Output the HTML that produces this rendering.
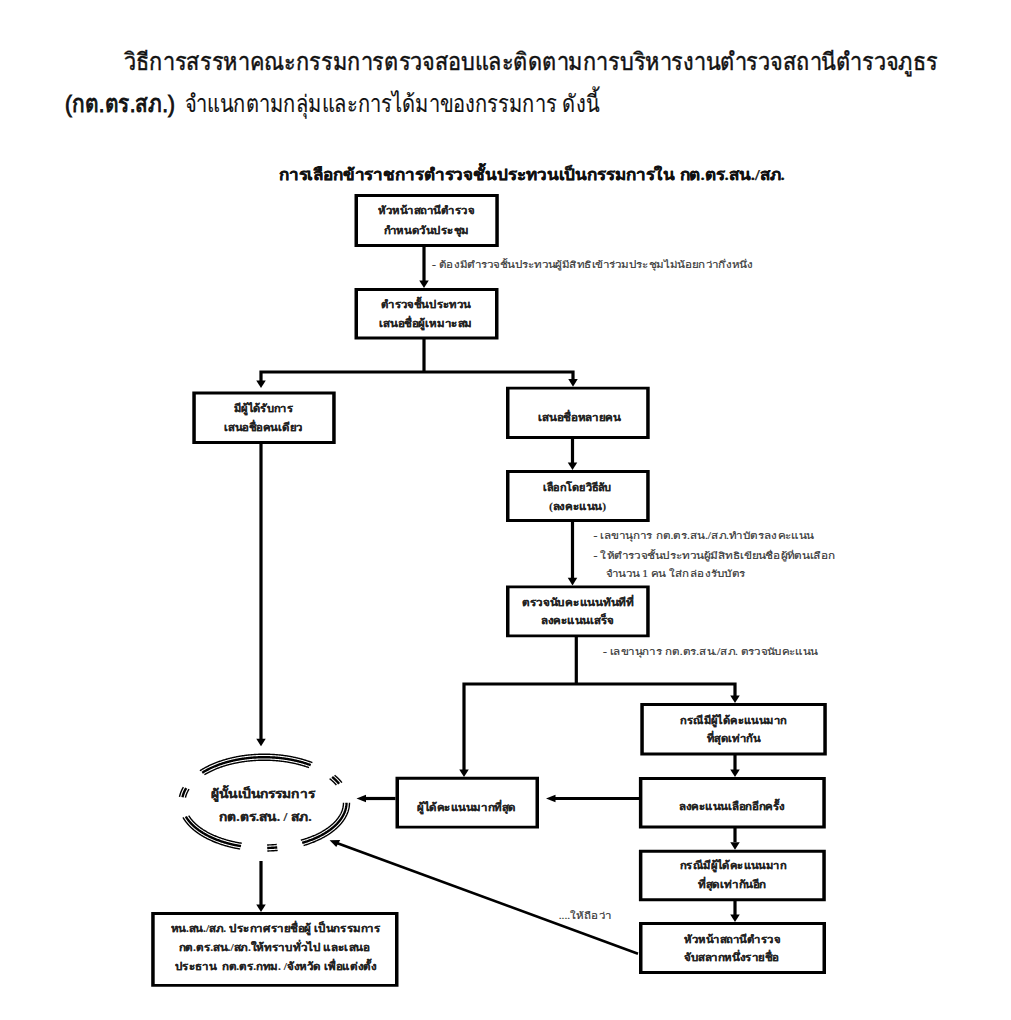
<!DOCTYPE html>
<html><head><meta charset="utf-8"><style>
html,body{margin:0;padding:0;background:#fff;width:1011px;height:1020px;overflow:hidden}
svg{display:block}
</style></head><body>
<svg width="1011" height="1020" viewBox="0 0 1011 1020">
<text x="124.0" y="69.8" font-family="&quot;Liberation Sans&quot;, sans-serif" font-size="24" font-weight="normal" fill="#111" stroke="#111" stroke-width="0.45" textLength="814.0" lengthAdjust="spacingAndGlyphs">วิธีการสรรหาคณะกรรมการตรวจสอบและติดตามการบริหารงานตำรวจสถานีตำรวจภูธร</text>
<text x="65.0" y="111.8" font-family="&quot;Liberation Sans&quot;, sans-serif" font-size="24" font-weight="normal" fill="#111" stroke="#111" stroke-width="0.9" textLength="110.0" lengthAdjust="spacingAndGlyphs">(กต.ตร.สภ.)</text>
<text x="184.8" y="111.8" font-family="&quot;Liberation Sans&quot;, sans-serif" font-size="24" font-weight="normal" fill="#111" stroke="#111" stroke-width="0.15" textLength="414.2" lengthAdjust="spacingAndGlyphs">จำแนกตามกลุ่มและการได้มาของกรรมการ ดังนี้</text>
<text x="278.8" y="180.0" font-family="&quot;Liberation Serif&quot;, serif" font-size="15.5" font-weight="bold" fill="#111" stroke="#111" stroke-width="0.25" textLength="506.0" lengthAdjust="spacingAndGlyphs">การเลือกข้าราชการตำรวจชั้นประทวนเป็นกรรมการใน กต.ตร.สน./สภ.</text>
<path d="M354.50,194.00H498.80V247.00H354.50Z M358.00,196.90V244.10H495.30V196.90Z" fill="#000" fill-rule="evenodd"/>
<text x="378.0" y="213.9" font-family="&quot;Liberation Serif&quot;, serif" font-size="10.5" font-weight="bold" fill="#222" stroke="#222" stroke-width="0.1" textLength="96.0" lengthAdjust="spacingAndGlyphs">หัวหน้าสถานีตำรวจ</text>
<text x="383.5" y="233.8" font-family="&quot;Liberation Serif&quot;, serif" font-size="10.5" font-weight="bold" fill="#222" stroke="#222" stroke-width="0.1" textLength="85.5" lengthAdjust="spacingAndGlyphs">กำหนดวันประชุม</text>
<path d="M354.50,288.00H498.50V339.50H354.50Z M358.00,290.90V336.60H495.00V290.90Z" fill="#000" fill-rule="evenodd"/>
<text x="380.6" y="308.0" font-family="&quot;Liberation Serif&quot;, serif" font-size="10.5" font-weight="bold" fill="#222" stroke="#222" stroke-width="0.1" textLength="90.4" lengthAdjust="spacingAndGlyphs">ตำรวจชั้นประทวน</text>
<text x="379.0" y="327.0" font-family="&quot;Liberation Serif&quot;, serif" font-size="10.5" font-weight="bold" fill="#222" stroke="#222" stroke-width="0.1" textLength="93.0" lengthAdjust="spacingAndGlyphs">เสนอชื่อผู้เหมาะสม</text>
<path d="M192.30,391.60H335.70V444.00H192.30Z M195.80,394.50V441.10H332.20V394.50Z" fill="#000" fill-rule="evenodd"/>
<text x="233.8" y="412.4" font-family="&quot;Liberation Serif&quot;, serif" font-size="10.5" font-weight="bold" fill="#222" stroke="#222" stroke-width="0.1" textLength="59.2" lengthAdjust="spacingAndGlyphs">มีผู้ได้รับการ</text>
<text x="224.0" y="431.0" font-family="&quot;Liberation Serif&quot;, serif" font-size="10.5" font-weight="bold" fill="#222" stroke="#222" stroke-width="0.1" textLength="78.6" lengthAdjust="spacingAndGlyphs">เสนอชื่อคนเดียว</text>
<path d="M506.00,386.70H649.70V439.00H506.00Z M509.50,389.60V436.10H646.20V389.60Z" fill="#000" fill-rule="evenodd"/>
<text x="538.0" y="420.7" font-family="&quot;Liberation Serif&quot;, serif" font-size="10.5" font-weight="bold" fill="#222" stroke="#222" stroke-width="0.1" textLength="82.5" lengthAdjust="spacingAndGlyphs">เสนอชื่อหลายคน</text>
<path d="M506.00,470.00H649.70V522.00H506.00Z M509.50,472.90V519.10H646.20V472.90Z" fill="#000" fill-rule="evenodd"/>
<text x="543.0" y="491.0" font-family="&quot;Liberation Serif&quot;, serif" font-size="10.5" font-weight="bold" fill="#222" stroke="#222" stroke-width="0.1" textLength="68.5" lengthAdjust="spacingAndGlyphs">เลือกโดยวิธีลับ</text>
<text x="549.0" y="509.6" font-family="&quot;Liberation Serif&quot;, serif" font-size="10.5" font-weight="bold" fill="#222" stroke="#222" stroke-width="0.1" textLength="57.0" lengthAdjust="spacingAndGlyphs">(ลงคะแนน)</text>
<path d="M506.00,585.40H649.70V637.30H506.00Z M509.50,588.30V634.40H646.20V588.30Z" fill="#000" fill-rule="evenodd"/>
<text x="522.0" y="605.6" font-family="&quot;Liberation Serif&quot;, serif" font-size="10.5" font-weight="bold" fill="#222" stroke="#222" stroke-width="0.1" textLength="112.0" lengthAdjust="spacingAndGlyphs">ตรวจนับคะแนนทันทีที่</text>
<text x="541.0" y="624.4" font-family="&quot;Liberation Serif&quot;, serif" font-size="10.5" font-weight="bold" fill="#222" stroke="#222" stroke-width="0.1" textLength="73.0" lengthAdjust="spacingAndGlyphs">ลงคะแนนเสร็จ</text>
<path d="M640.30,703.10H826.80V755.40H640.30Z M643.80,706.00V752.50H823.30V706.00Z" fill="#000" fill-rule="evenodd"/>
<text x="680.4" y="723.7" font-family="&quot;Liberation Serif&quot;, serif" font-size="10.5" font-weight="bold" fill="#222" stroke="#222" stroke-width="0.1" textLength="105.9" lengthAdjust="spacingAndGlyphs">กรณีมีผู้ได้คะแนนมาก</text>
<text x="706.8" y="742.0" font-family="&quot;Liberation Serif&quot;, serif" font-size="10.5" font-weight="bold" fill="#222" stroke="#222" stroke-width="0.1" textLength="53.2" lengthAdjust="spacingAndGlyphs">ที่สุดเท่ากัน</text>
<path d="M638.90,777.10H825.80V828.50H638.90Z M642.40,780.00V825.60H822.30V780.00Z" fill="#000" fill-rule="evenodd"/>
<text x="679.0" y="810.3" font-family="&quot;Liberation Serif&quot;, serif" font-size="10.5" font-weight="bold" fill="#222" stroke="#222" stroke-width="0.1" textLength="105.7" lengthAdjust="spacingAndGlyphs">ลงคะแนนเลือกอีกครั้ง</text>
<path d="M395.50,776.80H539.00V828.60H395.50Z M399.00,779.70V825.70H535.50V779.70Z" fill="#000" fill-rule="evenodd"/>
<text x="417.0" y="810.5" font-family="&quot;Liberation Serif&quot;, serif" font-size="10.5" font-weight="bold" fill="#222" stroke="#222" stroke-width="0.1" textLength="98.8" lengthAdjust="spacingAndGlyphs">ผู้ได้คะแนนมากที่สุด</text>
<path d="M638.90,849.80H825.80V901.20H638.90Z M642.40,852.70V898.30H822.30V852.70Z" fill="#000" fill-rule="evenodd"/>
<text x="680.0" y="869.2" font-family="&quot;Liberation Serif&quot;, serif" font-size="10.5" font-weight="bold" fill="#222" stroke="#222" stroke-width="0.1" textLength="106.0" lengthAdjust="spacingAndGlyphs">กรณีมีผู้ได้คะแนนมาก</text>
<text x="698.0" y="888.4" font-family="&quot;Liberation Serif&quot;, serif" font-size="10.5" font-weight="bold" fill="#222" stroke="#222" stroke-width="0.1" textLength="68.0" lengthAdjust="spacingAndGlyphs">ที่สุดเท่ากันอีก</text>
<path d="M639.00,922.00H826.00V974.00H639.00Z M642.50,924.90V971.10H822.50V924.90Z" fill="#000" fill-rule="evenodd"/>
<text x="684.4" y="942.8" font-family="&quot;Liberation Serif&quot;, serif" font-size="10.5" font-weight="bold" fill="#222" stroke="#222" stroke-width="0.1" textLength="95.6" lengthAdjust="spacingAndGlyphs">หัวหน้าสถานีตำรวจ</text>
<text x="684.0" y="961.0" font-family="&quot;Liberation Serif&quot;, serif" font-size="10.5" font-weight="bold" fill="#222" stroke="#222" stroke-width="0.1" textLength="95.0" lengthAdjust="spacingAndGlyphs">จับสลากหนึ่งรายชื่อ</text>
<path d="M151.20,912.00H398.50V986.80H151.20Z M154.70,914.90V983.90H395.00V914.90Z" fill="#000" fill-rule="evenodd"/>
<text x="170.7" y="931.5" font-family="&quot;Liberation Serif&quot;, serif" font-size="10.5" font-weight="bold" fill="#222" stroke="#222" stroke-width="0.1" textLength="209.7" lengthAdjust="spacingAndGlyphs">หน.สน./สภ. ประกาศรายชื่อผู้ เป็นกรรมการ</text>
<text x="178.7" y="951.0" font-family="&quot;Liberation Serif&quot;, serif" font-size="10.5" font-weight="bold" fill="#222" stroke="#222" stroke-width="0.1" textLength="191.0" lengthAdjust="spacingAndGlyphs">กต.ตร.สน./สภ.ให้ทราบทั่วไป และเสนอ</text>
<text x="174.7" y="969.7" font-family="&quot;Liberation Serif&quot;, serif" font-size="10.5" font-weight="bold" fill="#222" stroke="#222" stroke-width="0.1" textLength="201.7" lengthAdjust="spacingAndGlyphs">ประธาน&#160; กต.ตร.กทม. /จังหวัด เพื่อแต่งตั้ง</text>
<polyline points="424.00,247.00 424.00,281.00" fill="none" stroke="#000" stroke-width="3.2" stroke-linejoin="miter" stroke-linecap="butt"/>
<polygon points="424.00,288.00 419.25,280.40 428.75,280.40" fill="#000"/>
<polyline points="424.00,339.00 424.00,372.00" fill="none" stroke="#000" stroke-width="3.2" stroke-linejoin="miter" stroke-linecap="butt"/>
<polyline points="261.00,381.00 261.00,372.00 573.00,372.00 573.00,380.00" fill="none" stroke="#000" stroke-width="3.2" stroke-linejoin="miter" stroke-linecap="butt"/>
<polygon points="261.00,388.00 256.25,380.40 265.75,380.40" fill="#000"/>
<polygon points="573.00,386.70 568.25,379.10 577.75,379.10" fill="#000"/>
<polyline points="572.50,439.00 572.50,464.00" fill="none" stroke="#000" stroke-width="3.2" stroke-linejoin="miter" stroke-linecap="butt"/>
<polygon points="572.50,470.00 567.75,462.40 577.25,462.40" fill="#000"/>
<polyline points="572.50,522.00 572.50,579.00" fill="none" stroke="#000" stroke-width="3.2" stroke-linejoin="miter" stroke-linecap="butt"/>
<polygon points="572.50,585.40 567.75,577.80 577.25,577.80" fill="#000"/>
<polyline points="576.30,637.00 576.30,684.00" fill="none" stroke="#000" stroke-width="3.2" stroke-linejoin="miter" stroke-linecap="butt"/>
<polyline points="464.00,770.00 464.00,684.00 735.00,684.00 735.00,696.00" fill="none" stroke="#000" stroke-width="3.2" stroke-linejoin="miter" stroke-linecap="butt"/>
<polygon points="464.00,777.00 459.25,769.40 468.75,769.40" fill="#000"/>
<polygon points="735.00,703.00 730.25,695.40 739.75,695.40" fill="#000"/>
<polyline points="735.00,755.00 735.00,770.00" fill="none" stroke="#000" stroke-width="3.2" stroke-linejoin="miter" stroke-linecap="butt"/>
<polygon points="735.00,777.00 730.25,769.40 739.75,769.40" fill="#000"/>
<polyline points="735.00,828.00 735.00,842.00" fill="none" stroke="#000" stroke-width="3.2" stroke-linejoin="miter" stroke-linecap="butt"/>
<polygon points="735.00,849.80 730.25,842.20 739.75,842.20" fill="#000"/>
<polyline points="735.00,901.00 735.00,915.00" fill="none" stroke="#000" stroke-width="3.2" stroke-linejoin="miter" stroke-linecap="butt"/>
<polygon points="735.00,922.00 730.25,914.40 739.75,914.40" fill="#000"/>
<polyline points="639.00,798.50 554.00,798.50" fill="none" stroke="#000" stroke-width="3.2" stroke-linejoin="miter" stroke-linecap="butt"/>
<polygon points="546.00,798.50 555.50,794.70 555.50,802.30" fill="#000"/>
<polyline points="395.50,798.50 364.00,798.50" fill="none" stroke="#000" stroke-width="3.2" stroke-linejoin="miter" stroke-linecap="butt"/>
<polygon points="356.50,798.50 366.00,794.70 366.00,802.30" fill="#000"/>
<polyline points="261.00,444.00 261.00,740.00" fill="none" stroke="#000" stroke-width="3.2" stroke-linejoin="miter" stroke-linecap="butt"/>
<polygon points="261.00,746.30 256.25,738.70 265.75,738.70" fill="#000"/>
<polyline points="261.00,861.00 261.00,906.00" fill="none" stroke="#000" stroke-width="3.2" stroke-linejoin="miter" stroke-linecap="butt"/>
<polygon points="261.00,912.00 256.25,904.40 265.75,904.40" fill="#000"/>
<polyline points="638.00,953.80 336.17,842.72" fill="none" stroke="#000" stroke-width="2.6" stroke-linejoin="miter" stroke-linecap="butt"/>
<polygon points="329.60,840.30 340.22,840.03 336.24,846.93" fill="#000"/>
<polyline points="204.44,774.73 204.90,774.45 205.36,774.17 205.83,773.90 206.30,773.63 206.78,773.36 207.26,773.09 207.75,772.82 208.24,772.56 208.73,772.30 209.23,772.04 209.73,771.78 210.24,771.53 210.75,771.28 211.27,771.03 211.79,770.78 212.31,770.54 212.84,770.30 213.37,770.06 213.90,769.82 214.44,769.59 214.98,769.35 215.53,769.12 216.08,768.90 216.63,768.67 217.19,768.45 217.75,768.23 218.32,768.02 218.89,767.80 219.46,767.59 220.03,767.39 220.61,767.18 221.19,766.98 221.78,766.78 222.37,766.58 222.96,766.39 223.55,766.19 224.15,766.00 224.75,765.82 225.36,765.63 225.96,765.45 226.57,765.28 227.19,765.10 227.80,764.93 228.42,764.76 229.04,764.60 229.67,764.43 230.29,764.27 230.92,764.11 231.55,763.96 232.19,763.81 232.82,763.66 233.46,763.51 234.10,763.37 234.75,763.23 235.39,763.10 236.04,762.96 236.69,762.83 237.34,762.71 238.00,762.58 238.66,762.46 239.31,762.34 239.97,762.23 240.64,762.12 241.30,762.01 241.97,761.90 242.63,761.80 243.30,761.70 243.97,761.60 244.65,761.51 245.32,761.42 246.00,761.33 246.67,761.25 247.35,761.17 248.03,761.09 248.71,761.02 249.39,760.95 250.07,760.88 250.76,760.81 251.44,760.75 252.13,760.69 252.82,760.64 253.50,760.59 254.19,760.54 254.88,760.49 255.57,760.45 256.26,760.41 256.95,760.38 257.65,760.35 258.34,760.32 259.03,760.29 259.72,760.27 260.42,760.25 261.11,760.23 261.81,760.22 262.50,760.21 263.19,760.20 263.89,760.20 264.58,760.20 265.28,760.20 265.97,760.21 266.67,760.22 267.36,760.23 268.05,760.25 268.75,760.27 269.44,760.29 270.13,760.32 270.83,760.35 271.52,760.38 272.21,760.42 272.90,760.46 273.59,760.50 274.28,760.54 274.97,760.59 275.66,760.64 276.34,760.70 277.03,760.76 277.71,760.82 278.40,760.89 279.08,760.95 279.76,761.02 280.44,761.10 281.12,761.18 281.80,761.26 282.48,761.34 283.15,761.43 283.82,761.52 284.50,761.61 285.17,761.71 285.84,761.81 286.50,761.91 287.17,762.02 287.83,762.13 288.49,762.24 289.16,762.35 289.81,762.47 290.47,762.59 291.12,762.72 291.78,762.85 292.43,762.98 293.07,763.11 293.72,763.25 294.36,763.39 295.00,763.53 295.64,763.68 296.28,763.82 296.91,763.98 297.55,764.13 298.17,764.29 298.80,764.45 299.42,764.61 300.04,764.78 300.66,764.95 301.28,765.12 301.89,765.30 302.50,765.47 303.11,765.65 303.71,765.84 304.31,766.02 304.91,766.21 305.50,766.41 306.09,766.60 306.68,766.80 307.27,767.00 307.85,767.20 308.43,767.41 309.00,767.62" fill="none" stroke="#000" stroke-width="1.4"/>
<polyline points="202.18,772.76 202.66,772.46 203.14,772.16 203.62,771.87 204.11,771.58 204.61,771.29 205.11,771.00 205.61,770.72 206.12,770.43 206.63,770.15 207.15,769.88 207.67,769.60 208.20,769.33 208.73,769.06 209.26,768.79 209.80,768.53 210.35,768.27 210.89,768.01 211.44,767.75 212.00,767.50 212.56,767.25 213.12,767.00 213.69,766.76 214.26,766.51 214.84,766.27 215.41,766.04 216.00,765.80 216.58,765.57 217.17,765.34 217.77,765.12 218.36,764.89 218.96,764.67 219.57,764.46 220.17,764.24 220.78,764.03 221.40,763.82 222.02,763.62 222.64,763.42 223.26,763.22 223.89,763.02 224.52,762.83 225.15,762.64 225.79,762.45 226.42,762.26 227.07,762.08 227.71,761.91 228.36,761.73 229.01,761.56 229.66,761.39 230.32,761.23 230.98,761.06 231.64,760.90 232.30,760.75 232.97,760.60 233.63,760.45 234.30,760.30 234.98,760.16 235.65,760.02 236.33,759.88 237.01,759.75 237.69,759.62 238.37,759.49 239.06,759.37 239.75,759.25 240.43,759.13 241.13,759.02 241.82,758.91 242.51,758.80 243.21,758.70 243.91,758.60 244.61,758.51 245.31,758.41 246.01,758.32 246.71,758.24 247.42,758.15 248.12,758.07 248.83,758.00 249.54,757.93 250.25,757.86 250.96,757.79 251.67,757.73 252.39,757.67 253.10,757.61 253.81,757.56 254.53,757.51 255.25,757.47 255.96,757.43 256.68,757.39 257.40,757.36 258.12,757.32 258.84,757.30 259.55,757.27 260.27,757.25 260.99,757.23 261.72,757.22 262.44,757.21 263.16,757.20 263.88,757.20 264.60,757.20 265.32,757.20 266.04,757.21 266.76,757.22 267.48,757.24 268.20,757.25 268.92,757.27 269.64,757.30 270.36,757.33 271.08,757.36 271.80,757.39 272.51,757.43 273.23,757.47 273.95,757.52 274.66,757.57 275.38,757.62 276.09,757.68 276.80,757.74 277.51,757.80 278.22,757.86 278.93,757.93 279.64,758.01 280.35,758.08 281.06,758.16 281.76,758.25 282.46,758.33 283.17,758.42 283.87,758.52 284.57,758.61 285.26,758.71 285.96,758.82 286.65,758.92 287.35,759.03 288.04,759.15 288.73,759.26 289.41,759.38 290.10,759.51 290.78,759.63 291.46,759.76 292.14,759.90 292.82,760.03 293.49,760.17 294.17,760.32 294.84,760.46 295.50,760.61 296.17,760.77 296.83,760.92 297.49,761.08 298.15,761.24 298.81,761.41 299.46,761.58 300.11,761.75 300.76,761.92 301.40,762.10 302.04,762.28 302.68,762.47 303.32,762.66 303.95,762.85 304.58,763.04 305.21,763.24 305.83,763.44 306.45,763.64 307.07,763.84 307.68,764.05 308.29,764.26 308.90,764.48 309.50,764.70 310.10,764.92 310.70,765.14" fill="none" stroke="#000" stroke-width="2.4"/>
<polyline points="199.92,770.78 200.41,770.46 200.91,770.15 201.42,769.84 201.92,769.53 202.44,769.22 202.96,768.91 203.48,768.61 204.00,768.31 204.54,768.01 205.07,767.71 205.61,767.42 206.16,767.13 206.71,766.85 207.26,766.56 207.82,766.28 208.38,766.00 208.95,765.72 209.52,765.45 210.10,765.18 210.68,764.91 211.26,764.65 211.85,764.39 212.44,764.13 213.04,763.87 213.64,763.62 214.24,763.37 214.85,763.12 215.46,762.88 216.07,762.64 216.69,762.40 217.31,762.17 217.94,761.94 218.57,761.71 219.20,761.48 219.84,761.26 220.48,761.04 221.12,760.83 221.77,760.61 222.42,760.40 223.07,760.20 223.73,760.00 224.39,759.80 225.05,759.60 225.71,759.41 226.38,759.22 227.05,759.03 227.73,758.85 228.40,758.67 229.08,758.49 229.76,758.32 230.45,758.15 231.14,757.98 231.83,757.82 232.52,757.66 233.21,757.51 233.91,757.35 234.61,757.21 235.31,757.06 236.02,756.92 236.72,756.78 237.43,756.65 238.14,756.51 238.85,756.39 239.57,756.26 240.28,756.14 241.00,756.02 241.72,755.91 242.44,755.80 243.17,755.69 243.89,755.59 244.62,755.49 245.35,755.40 246.07,755.31 246.81,755.22 247.54,755.13 248.27,755.05 249.01,754.97 249.74,754.90 250.48,754.83 251.22,754.76 251.95,754.70 252.69,754.64 253.44,754.59 254.18,754.54 254.92,754.49 255.66,754.44 256.41,754.40 257.15,754.37 257.89,754.33 258.64,754.30 259.39,754.28 260.13,754.26 260.88,754.24 261.62,754.22 262.37,754.21 263.12,754.20 263.87,754.20 264.61,754.20 265.36,754.20 266.11,754.21 266.85,754.22 267.60,754.24 268.35,754.26 269.09,754.28 269.84,754.31 270.58,754.34 271.33,754.37 272.07,754.41 272.82,754.45 273.56,754.49 274.30,754.54 275.04,754.59 275.78,754.65 276.52,754.71 277.26,754.77 278.00,754.84 278.74,754.91 279.47,754.98 280.21,755.06 280.94,755.14 281.67,755.23 282.40,755.31 283.13,755.41 283.86,755.50 284.58,755.60 285.31,755.71 286.03,755.81 286.75,755.92 287.47,756.04 288.19,756.15 288.91,756.27 289.62,756.40 290.33,756.53 291.04,756.66 291.75,756.79 292.46,756.93 293.16,757.08 293.86,757.22 294.56,757.37 295.26,757.52 295.95,757.68 296.65,757.84 297.34,758.00 298.02,758.17 298.71,758.34 299.39,758.51 300.07,758.69 300.74,758.87 301.42,759.05 302.09,759.24 302.76,759.43 303.42,759.62 304.08,759.82 304.74,760.02 305.40,760.22 306.05,760.43 306.70,760.64 307.35,760.85 307.99,761.06 308.63,761.28 309.26,761.51 309.90,761.73 310.53,761.96 311.15,762.19 311.77,762.43 312.39,762.66" fill="none" stroke="#000" stroke-width="1.4"/>
<polyline points="329.63,778.65 330.02,778.95 330.40,779.26 330.78,779.57 331.16,779.88 331.52,780.19 331.89,780.51 332.24,780.83 332.60,781.14 332.94,781.46 333.29,781.79 333.62,782.11 333.96,782.43 334.28,782.76 334.60,783.09 334.92,783.42 335.23,783.75 335.53,784.08 335.83,784.41 336.13,784.75 336.42,785.08" fill="none" stroke="#000" stroke-width="1.4"/>
<polyline points="332.11,776.95 332.51,777.28 332.91,777.61 333.30,777.94 333.69,778.27 334.07,778.61 334.45,778.95 334.82,779.29 335.18,779.63 335.55,779.97 335.90,780.31 336.25,780.66 336.60,781.01 336.93,781.36 337.27,781.71 337.59,782.06 337.92,782.41 338.23,782.77 338.54,783.13 338.85,783.48 339.15,783.85" fill="none" stroke="#000" stroke-width="2.4"/>
<polyline points="334.58,775.26 335.00,775.61 335.41,775.96 335.82,776.31 336.22,776.67 336.62,777.02 337.01,777.38 337.39,777.74 337.77,778.11 338.15,778.47 338.51,778.84 338.88,779.21 339.23,779.58 339.59,779.95 339.93,780.33 340.27,780.70 340.60,781.08 340.93,781.46 341.25,781.84 341.57,782.22 341.88,782.61" fill="none" stroke="#000" stroke-width="1.4"/>
<polyline points="343.50,802.79 343.49,803.16 343.48,803.53 343.46,803.90 343.44,804.27 343.41,804.64 343.37,805.01 343.33,805.38 343.28,805.75 343.23,806.12 343.16,806.49 343.10,806.86 343.03,807.23 342.95,807.60 342.86,807.97 342.77,808.34 342.67,808.71 342.57,809.08 342.46,809.44 342.35,809.81 342.22,810.17 342.10,810.54 341.96,810.90 341.83,811.27 341.68,811.63 341.53,811.99 341.37,812.36 341.21,812.72 341.04,813.08 340.87,813.44 340.69,813.80 340.50,814.15 340.31,814.51 340.11,814.87 339.90,815.22 339.70,815.58 339.48,815.93 339.26,816.28 339.03,816.63 338.80,816.98 338.56,817.33 338.32,817.68 338.07,818.03 337.81,818.37 337.55,818.72 337.28,819.06 337.01,819.40 336.73,819.74 336.45,820.08 336.16,820.42 335.86,820.75 335.56,821.09 335.26,821.42 334.95,821.75 334.63,822.09 334.31,822.41 333.98,822.74 333.65,823.07 333.31,823.39 332.97,823.72 332.62,824.04 332.26,824.36 331.90,824.68 331.54,824.99 331.17,825.31 330.80,825.62 330.42,825.93 330.03,826.24 329.64,826.55 329.25,826.85 328.85,827.16 328.44,827.46 328.03,827.76 327.62,828.06 327.20,828.35 326.77,828.65 326.34,828.94 325.91,829.23 325.47,829.52 325.03,829.80 324.58,830.09 324.13,830.37 323.67,830.65 323.21,830.93 322.74,831.20 322.27,831.47 321.80,831.75 321.32,832.01 320.83,832.28 320.34,832.54 319.85,832.81 319.35,833.07 318.85,833.32 318.35,833.58 317.84,833.83 317.32,834.08 316.80,834.33 316.28,834.57 315.76,834.82 315.23,835.06 314.69,835.29 314.15,835.53 313.61,835.76 313.07,835.99 312.52,836.22 311.97,836.45 311.41,836.67 310.85,836.89 310.29,837.10 309.72,837.32 309.15,837.53 308.57,837.74 308.00,837.95 307.42,838.15 306.83,838.35 306.24,838.55 305.65,838.75 305.06,838.94 304.46,839.13 303.86,839.32 303.26,839.50 302.65,839.68 302.04,839.86 301.43,840.04 300.82,840.21" fill="none" stroke="#000" stroke-width="1.4"/>
<polyline points="346.50,802.80 346.49,803.20 346.48,803.59 346.46,803.99 346.44,804.39 346.40,804.79 346.37,805.18 346.32,805.58 346.27,805.98 346.22,806.37 346.15,806.77 346.08,807.17 346.01,807.56 345.93,807.96 345.84,808.35 345.74,808.75 345.64,809.14 345.53,809.53 345.42,809.93 345.30,810.32 345.18,810.71 345.04,811.10 344.91,811.49 344.76,811.88 344.61,812.27 344.45,812.66 344.29,813.05 344.12,813.43 343.95,813.82 343.77,814.20 343.58,814.59 343.39,814.97 343.19,815.35 342.98,815.73 342.77,816.11 342.55,816.49 342.33,816.87 342.10,817.25 341.86,817.63 341.62,818.00 341.37,818.37 341.12,818.75 340.86,819.12 340.59,819.49 340.32,819.86 340.05,820.22 339.76,820.59 339.48,820.95 339.18,821.32 338.88,821.68 338.57,822.04 338.26,822.40 337.95,822.75 337.62,823.11 337.29,823.46 336.96,823.82 336.62,824.17 336.28,824.52 335.92,824.86 335.57,825.21 335.21,825.55 334.84,825.90 334.47,826.24 334.09,826.58 333.70,826.91 333.32,827.25 332.92,827.58 332.52,827.91 332.12,828.24 331.71,828.57 331.29,828.89 330.87,829.22 330.45,829.54 330.02,829.86 329.58,830.17 329.14,830.49 328.70,830.80 328.24,831.11 327.79,831.42 327.33,831.73 326.86,832.03 326.39,832.33 325.92,832.63 325.44,832.93 324.96,833.22 324.47,833.52 323.97,833.81 323.48,834.09 322.97,834.38 322.47,834.66 321.96,834.94 321.44,835.22 320.92,835.50 320.39,835.77 319.87,836.04 319.33,836.31 318.79,836.57 318.25,836.84 317.71,837.10 317.16,837.35 316.60,837.61 316.04,837.86 315.48,838.11 314.92,838.36 314.35,838.60 313.77,838.84 313.20,839.08 312.61,839.31 312.03,839.55 311.44,839.78 310.85,840.00 310.25,840.23 309.65,840.45 309.05,840.67 308.44,840.88 307.83,841.09 307.22,841.30 306.61,841.51 305.99,841.71 305.36,841.91 304.74,842.11 304.11,842.31 303.48,842.50 302.84,842.69 302.20,842.87" fill="none" stroke="#000" stroke-width="2.4"/>
<polyline points="349.50,802.81 349.49,803.24 349.48,803.66 349.46,804.08 349.43,804.51 349.40,804.93 349.36,805.35 349.32,805.78 349.26,806.20 349.20,806.62 349.14,807.05 349.07,807.47 348.99,807.89 348.90,808.31 348.81,808.73 348.71,809.15 348.61,809.57 348.50,809.99 348.38,810.41 348.26,810.83 348.13,811.25 347.99,811.66 347.85,812.08 347.70,812.49 347.54,812.91 347.38,813.32 347.21,813.74 347.04,814.15 346.85,814.56 346.67,814.97 346.47,815.38 346.27,815.79 346.07,816.20 345.85,816.60 345.63,817.01 345.41,817.41 345.18,817.82 344.94,818.22 344.69,818.62 344.44,819.02 344.19,819.42 343.92,819.81 343.65,820.21 343.38,820.60 343.10,821.00 342.81,821.39 342.52,821.78 342.22,822.17 341.91,822.55 341.60,822.94 341.29,823.32 340.96,823.71 340.63,824.09 340.30,824.47 339.96,824.84 339.61,825.22 339.26,825.59 338.90,825.96 338.54,826.34 338.17,826.70 337.79,827.07 337.41,827.44 337.03,827.80 336.64,828.16 336.24,828.52 335.83,828.88 335.43,829.23 335.01,829.58 334.59,829.94 334.17,830.28 333.74,830.63 333.30,830.98 332.86,831.32 332.42,831.66 331.96,832.00 331.51,832.33 331.05,832.67 330.58,833.00 330.11,833.33 329.63,833.65 329.15,833.98 328.66,834.30 328.17,834.62 327.67,834.93 327.17,835.25 326.66,835.56 326.15,835.87 325.64,836.18 325.12,836.48 324.59,836.78 324.06,837.08 323.53,837.38 322.99,837.67 322.44,837.96 321.89,838.25 321.34,838.54 320.78,838.82 320.22,839.10 319.66,839.37 319.09,839.65 318.51,839.92 317.93,840.19 317.35,840.45 316.77,840.72 316.17,840.98 315.58,841.23 314.98,841.49 314.38,841.74 313.77,841.99 313.16,842.23 312.55,842.47 311.93,842.71 311.31,842.95 310.69,843.18 310.06,843.41 309.43,843.64 308.79,843.86 308.15,844.08 307.51,844.30 306.86,844.51 306.21,844.72 305.56,844.93 304.91,845.13 304.25,845.33 303.59,845.53" fill="none" stroke="#000" stroke-width="1.4"/>
<polyline points="276.74,844.47 276.06,844.52 275.37,844.58 274.69,844.63 274.00,844.67 273.31,844.72 272.63,844.76 271.94,844.80 271.25,844.83 270.56,844.86 269.87,844.89 269.18,844.92 268.49,844.94 267.80,844.96 267.11,844.97" fill="none" stroke="#000" stroke-width="1.4"/>
<polyline points="277.22,847.43 276.51,847.49 275.80,847.55 275.08,847.60 274.37,847.65 273.66,847.70 272.95,847.74 272.23,847.78 271.52,847.82 270.80,847.85 270.08,847.88 269.37,847.91 268.65,847.93 267.93,847.95 267.22,847.97" fill="none" stroke="#000" stroke-width="2.4"/>
<polyline points="277.69,850.39 276.96,850.46 276.22,850.52 275.48,850.57 274.74,850.63 274.00,850.68 273.26,850.73 272.52,850.77 271.78,850.81 271.04,850.84 270.30,850.88 269.56,850.90 268.81,850.93 268.07,850.95 267.33,850.97" fill="none" stroke="#000" stroke-width="1.4"/>
<polyline points="241.81,843.27 241.14,843.17 240.48,843.06 239.82,842.95 239.15,842.83 238.50,842.71 237.84,842.59 237.18,842.46 236.53,842.34 235.88,842.20 235.23,842.07 234.58,841.93 233.94,841.79 233.30,841.65 232.66,841.50 232.02,841.35 231.39,841.20 230.75,841.04 230.12,840.89 229.50,840.72 228.87,840.56 228.25,840.39 227.63,840.22 227.02,840.05 226.40,839.87 225.79,839.70 225.19,839.51 224.58,839.33 223.98,839.14 223.38,838.95 222.79,838.76 222.20,838.56 221.61,838.37 221.02,838.16 220.44,837.96 219.86,837.75 219.29,837.54 218.72,837.33 218.15,837.12 217.58,836.90 217.02,836.68 216.46,836.46 215.91,836.23 215.36,836.00 214.81,835.77 214.27,835.54 213.73,835.31 213.20,835.07 212.67,834.83 212.14,834.58 211.62,834.34 211.10,834.09 210.58,833.84 210.07,833.59 209.57,833.33 209.07,833.07 208.57,832.82 208.07,832.55 207.58,832.29 207.10,832.02 206.62,831.75 206.14,831.48 205.67,831.21 205.20,830.93 204.74,830.65 204.28,830.37 203.83,830.09 203.38,829.81 202.94,829.52 202.50,829.23 202.06,828.94 201.63,828.65 201.21,828.36 200.79,828.06 200.37,827.76 199.96,827.46 199.56,827.16 199.16,826.85 198.76,826.55 198.37,826.24 197.98,825.93 197.60,825.62 197.23,825.31 196.86,824.99 196.49,824.67 196.13,824.36 195.78,824.04 195.43,823.71 195.09,823.39 194.75,823.06 194.42,822.74 194.09,822.41 193.77,822.08 193.45,821.75 193.14,821.42 192.83,821.08 192.53,820.75 192.24,820.41 191.95,820.07 191.66,819.73 191.38,819.39 191.11,819.05 190.84,818.71 190.58,818.36 190.33,818.01 190.08,817.67 189.83,817.32 189.59,816.97 189.36,816.62 189.13,816.27 188.91,815.92 188.70,815.56" fill="none" stroke="#000" stroke-width="1.4"/>
<polyline points="240.96,846.15 240.27,846.04 239.58,845.92 238.89,845.80 238.21,845.68 237.52,845.55 236.84,845.42 236.16,845.28 235.48,845.15 234.81,845.01 234.13,844.86 233.46,844.71 232.79,844.56 232.13,844.41 231.46,844.25 230.80,844.09 230.14,843.93 229.49,843.76 228.84,843.59 228.18,843.42 227.54,843.25 226.89,843.07 226.25,842.89 225.61,842.70 224.97,842.51 224.34,842.32 223.71,842.13 223.08,841.93 222.46,841.73 221.84,841.52 221.22,841.32 220.61,841.11 220.00,840.90 219.39,840.68 218.79,840.46 218.18,840.24 217.59,840.02 216.99,839.79 216.40,839.56 215.82,839.33 215.24,839.09 214.66,838.85 214.08,838.61 213.51,838.37 212.95,838.12 212.38,837.87 211.82,837.62 211.27,837.36 210.72,837.11 210.17,836.85 209.63,836.58 209.09,836.32 208.56,836.05 208.03,835.78 207.50,835.51 206.98,835.23 206.46,834.95 205.95,834.67 205.44,834.39 204.94,834.10 204.44,833.82 203.95,833.53 203.46,833.23 202.97,832.94 202.49,832.64 202.02,832.34 201.55,832.04 201.08,831.73 200.62,831.43 200.16,831.12 199.71,830.81 199.27,830.49 198.82,830.18 198.39,829.86 197.96,829.54 197.53,829.22 197.11,828.90 196.69,828.57 196.28,828.24 195.88,827.91 195.48,827.58 195.08,827.25 194.70,826.91 194.31,826.57 193.93,826.24 193.56,825.89 193.19,825.55 192.83,825.21 192.47,824.86 192.12,824.51 191.78,824.16 191.44,823.81 191.10,823.46 190.77,823.10 190.45,822.75 190.13,822.39 189.82,822.03 189.51,821.67 189.21,821.31 188.92,820.94 188.63,820.58 188.35,820.21 188.07,819.85 187.80,819.48 187.53,819.11 187.27,818.73 187.02,818.36 186.77,817.99 186.53,817.61 186.29,817.23 186.06,816.86 185.84,816.48" fill="none" stroke="#000" stroke-width="2.4"/>
<polyline points="240.12,849.03 239.40,848.91 238.68,848.78 237.97,848.66 237.26,848.52 236.55,848.39 235.84,848.25 235.14,848.10 234.44,847.96 233.74,847.81 233.04,847.65 232.34,847.50 231.65,847.34 230.96,847.17 230.27,847.01 229.59,846.84 228.90,846.66 228.22,846.48 227.55,846.30 226.87,846.12 226.20,845.93 225.53,845.74 224.87,845.55 224.20,845.35 223.54,845.15 222.89,844.94 222.23,844.74 221.58,844.53 220.94,844.31 220.29,844.10 219.65,843.88 219.02,843.65 218.39,843.43 217.76,843.20 217.13,842.96 216.51,842.73 215.89,842.49 215.27,842.25 214.66,842.00 214.06,841.75 213.45,841.50 212.85,841.25 212.26,840.99 211.67,840.73 211.08,840.47 210.49,840.20 209.91,839.93 209.34,839.66 208.77,839.39 208.20,839.11 207.64,838.83 207.08,838.55 206.53,838.26 205.98,837.97 205.43,837.68 204.89,837.39 204.36,837.09 203.83,836.79 203.30,836.49 202.78,836.19 202.26,835.88 201.75,835.57 201.24,835.26 200.74,834.94 200.24,834.62 199.75,834.30 199.26,833.98 198.78,833.66 198.30,833.33 197.83,833.00 197.36,832.67 196.90,832.34 196.44,832.00 195.99,831.66 195.54,831.32 195.10,830.98 194.66,830.63 194.23,830.29 193.81,829.94 193.39,829.59 192.97,829.23 192.57,828.88 192.16,828.52 191.76,828.16 191.37,827.80 190.98,827.43 190.60,827.07 190.23,826.70 189.86,826.33 189.49,825.96 189.14,825.59 188.78,825.21 188.44,824.84 188.10,824.46 187.76,824.08 187.43,823.70 187.11,823.32 186.79,822.93 186.48,822.54 186.17,822.16 185.87,821.77 185.58,821.38 185.29,820.98 185.01,820.59 184.74,820.20 184.47,819.80 184.21,819.40 183.95,819.00 183.70,818.60 183.45,818.20 183.22,817.80 182.98,817.40" fill="none" stroke="#000" stroke-width="1.4"/>
<polyline points="185.44,797.65 185.53,797.29 185.62,796.92 185.71,796.55 185.81,796.19 185.92,795.82 186.03,795.46 186.15,795.09 186.28,794.73 186.41,794.36 186.55,794.00 186.69,793.64 186.84,793.28 187.00,792.92 187.16,792.56 187.32,792.20 187.50,791.84 187.67,791.48 187.86,791.13 188.05,790.77 188.24,790.42 188.45,790.06 188.65,789.71 188.87,789.36 189.09,789.01" fill="none" stroke="#000" stroke-width="1.4"/>
<polyline points="182.46,797.30 182.55,796.91 182.64,796.52 182.74,796.12 182.85,795.73 182.96,795.34 183.08,794.95 183.20,794.56 183.33,794.17 183.47,793.78 183.61,793.39 183.76,793.01 183.91,792.62 184.07,792.23 184.24,791.85 184.41,791.46 184.59,791.08 184.78,790.70 184.97,790.31 185.17,789.93 185.37,789.55 185.58,789.17 185.80,788.80 186.02,788.42 186.24,788.04" fill="none" stroke="#000" stroke-width="2.4"/>
<polyline points="179.48,796.95 179.57,796.53 179.67,796.12 179.77,795.70 179.88,795.28 180.00,794.86 180.12,794.45 180.25,794.03 180.38,793.61 180.52,793.20 180.67,792.79 180.83,792.37 180.99,791.96 181.15,791.55 181.33,791.14 181.51,790.73 181.69,790.32 181.88,789.91 182.08,789.50 182.29,789.10 182.50,788.69 182.71,788.29 182.94,787.88 183.17,787.48 183.40,787.08" fill="none" stroke="#000" stroke-width="1.4"/>
<text x="211.0" y="798.0" font-family="&quot;Liberation Serif&quot;, serif" font-size="11.8" font-weight="bold" fill="#222" stroke="#222" stroke-width="0.2" textLength="103.8" lengthAdjust="spacingAndGlyphs">ผู้นั้นเป็นกรรมการ</text>
<text x="218.8" y="820.6" font-family="&quot;Liberation Serif&quot;, serif" font-size="11.8" font-weight="bold" fill="#222" stroke="#222" stroke-width="0.2" textLength="92.8" lengthAdjust="spacingAndGlyphs">กต.ตร.สน. / สภ.</text>
<text x="432.0" y="267.8" font-family="&quot;Liberation Serif&quot;, serif" font-size="9.3" font-weight="normal" fill="#333" stroke="#333" stroke-width="0.15" textLength="321.0" lengthAdjust="spacingAndGlyphs">- ต้องมีตำรวจชั้นประทวนผู้มีสิทธิเข้าร่วมประชุมไม่น้อยกว่ากึ่งหนึ่ง</text>
<text x="593.5" y="539.3" font-family="&quot;Liberation Serif&quot;, serif" font-size="9.3" font-weight="normal" fill="#333" stroke="#333" stroke-width="0.15" textLength="220.2" lengthAdjust="spacingAndGlyphs">- เลขานุการ กต.ตร.สน./สภ.ทำบัตรลงคะแนน</text>
<text x="593.5" y="558.6" font-family="&quot;Liberation Serif&quot;, serif" font-size="9.3" font-weight="normal" fill="#333" stroke="#333" stroke-width="0.15" textLength="242.5" lengthAdjust="spacingAndGlyphs">- ให้ตำรวจชั้นประทวนผู้มีสิทธิเขียนชื่อผู้ที่ตนเลือก</text>
<text x="606.0" y="577.0" font-family="&quot;Liberation Serif&quot;, serif" font-size="9.3" font-weight="normal" fill="#333" stroke="#333" stroke-width="0.15" textLength="139.5" lengthAdjust="spacingAndGlyphs">จำนวน 1 คน ใส่กล่องรับบัตร</text>
<text x="603.0" y="655.0" font-family="&quot;Liberation Serif&quot;, serif" font-size="9.3" font-weight="normal" fill="#333" stroke="#333" stroke-width="0.15" textLength="214.8" lengthAdjust="spacingAndGlyphs">- เลขานุการ กต.ตร.สน./สภ. ตรวจนับคะแนน</text>
<text x="558.7" y="918.5" font-family="&quot;Liberation Serif&quot;, serif" font-size="9.3" font-weight="normal" fill="#333" stroke="#333" stroke-width="0.15" textLength="52.2" lengthAdjust="spacingAndGlyphs">....ให้ถือว่า</text>
</svg>
</body></html>
